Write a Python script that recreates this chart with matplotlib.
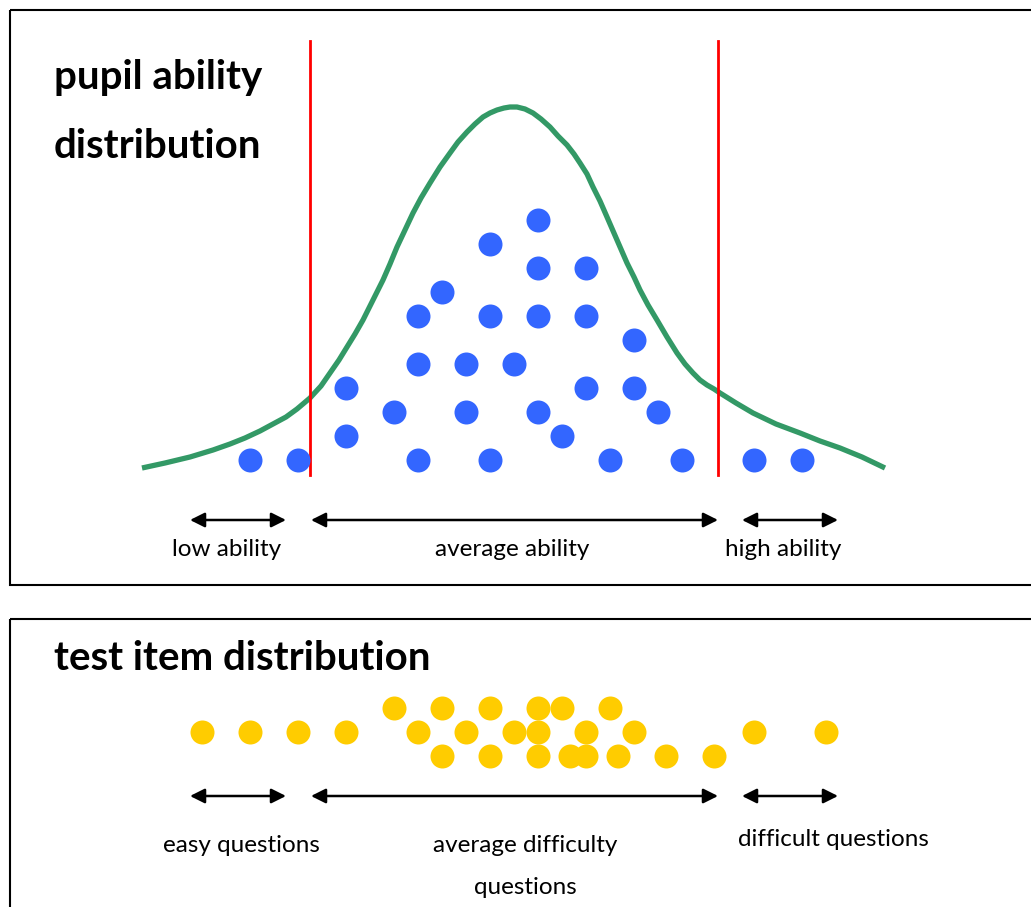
import numpy as np
import matplotlib
matplotlib.use("Agg")
import matplotlib.pyplot as plt
from matplotlib.patches import Rectangle

plt.rcParams['font.family'] = ['Lato', 'DejaVu Sans']

# ---- data (canvas units, y grows downward) ----
# pupils: x position and y level of each dot
pupil_x = [250, 298, 418, 490, 610, 682, 754, 802,
           346, 562,
           394, 466, 538, 658,
           346, 586, 634,
           418, 466, 514,
           634,
           418, 490, 538, 586,
           442,
           538, 586,
           490,
           538]
pupil_y = [460] * 8 + [436] * 2 + [412] * 4 + [388] * 3 + [364] * 3 + \
          [340] + [316] * 4 + [292] + [268] * 2 + [244] + [220]

# test items
item_x = [394, 442, 490, 538, 562, 610,
          202, 250, 298, 346, 418, 466, 514, 538, 586, 634, 754, 826,
          442, 490, 538, 570, 586, 618, 666, 714]
item_y = [708] * 6 + [732] * 12 + [756] * 8

# ability curve
curve_x = [142, 165, 190, 213, 230, 245, 260, 273, 286, 297, 310, 321, 330,
           339, 347, 355, 363, 373, 383, 390, 397, 405, 413, 421, 430, 440,
           450, 458, 467, 475, 483, 490, 497, 504, 510, 517, 525, 533, 541,
           550, 558, 567, 574, 580, 587, 593, 600, 607, 617, 627, 634, 640,
           648, 657, 667, 677, 685, 693, 700, 707, 714, 720, 736, 753, 776,
           800, 820, 840, 862, 885]
curve_y = [468, 463, 457, 450, 444, 438, 431, 424, 417, 409, 398, 386, 373,
           360, 347, 334, 320, 300, 280, 264, 247, 230, 213, 198, 183, 167,
           153, 142, 132, 124, 117, 113, 110, 108, 107, 107, 109, 113, 119,
           127, 136, 145, 154, 163, 174, 187, 201, 217, 240, 263, 277, 290,
           305, 320, 337, 353, 364, 373, 380, 385, 389, 393, 403, 413, 424,
           433, 441, 448, 457, 468]

cutoffs = [310, 718]

# arrows (start, end) and their labels
band_ranges = [(190, 286), (311, 718), (742, 838)]
pupil_labels = ["low ability", "average ability", "high ability"]
pupil_label_x = [227, 512, 783]
item_labels = [["easy questions"], ["average difficulty", "questions"], ["difficult questions"]]
item_label_x = [241, 525, 833]
item_label_y = [846, 846, 840]

blue = "#3366ff"
yellow = "#ffcc00"
green = "#339966"

fig = plt.figure(figsize=(10.31, 9.07), dpi=100)
ax = fig.add_axes([0, 0, 1, 1])
ax.set_xlim(0, 1031)
ax.set_ylim(907, 0)
ax.axis('off')

# frames
ax.add_patch(Rectangle((9.5, 9.5), 1040, 575, fill=False, lw=1.5, ec='black'))
ax.add_patch(Rectangle((9.5, 619), 1040, 320, fill=False, lw=1.5, ec='black'))

# top panel
ax.plot(curve_x, curve_y, color=green, lw=3.8, solid_capstyle='butt',
        solid_joinstyle='round', zorder=2)
for cx in cutoffs:
    ax.plot([cx, cx], [41, 475], color='red', lw=2, zorder=3)

dot_s = (24 * 0.72) ** 2
ax.scatter(pupil_x, pupil_y, s=dot_s, color=blue, linewidths=0, zorder=4)

ax.text(54, 78, "pupil ability", fontsize=29, fontweight='bold', va='center')
ax.text(54, 146, "distribution", fontsize=29, fontweight='bold', va='center')

arrow_style = dict(arrowstyle='<|-|>', color='black', lw=1.8,
                   mutation_scale=22, shrinkA=0, shrinkB=0)
for (a, b), lab, lx in zip(band_ranges, pupil_labels, pupil_label_x):
    ax.annotate("", xy=(a, 520), xytext=(b, 520), arrowprops=arrow_style)
    ax.text(lx, 549, lab, fontsize=17.5, ha='center', va='center')

# bottom panel
ax.scatter(item_x, item_y, s=dot_s, color=yellow, linewidths=0, zorder=4)
ax.text(54, 658, "test item distribution", fontsize=29, fontweight='bold', va='center')

for (a, b), lines, lx, ly in zip(band_ranges, item_labels, item_label_x, item_label_y):
    ax.annotate("", xy=(a, 796), xytext=(b, 796), arrowprops=arrow_style)
    for i, line in enumerate(lines):
        ax.text(lx, ly + 41 * i, line, fontsize=17.5, ha='center', va='center')

fig.savefig("out.png", dpi=100)
